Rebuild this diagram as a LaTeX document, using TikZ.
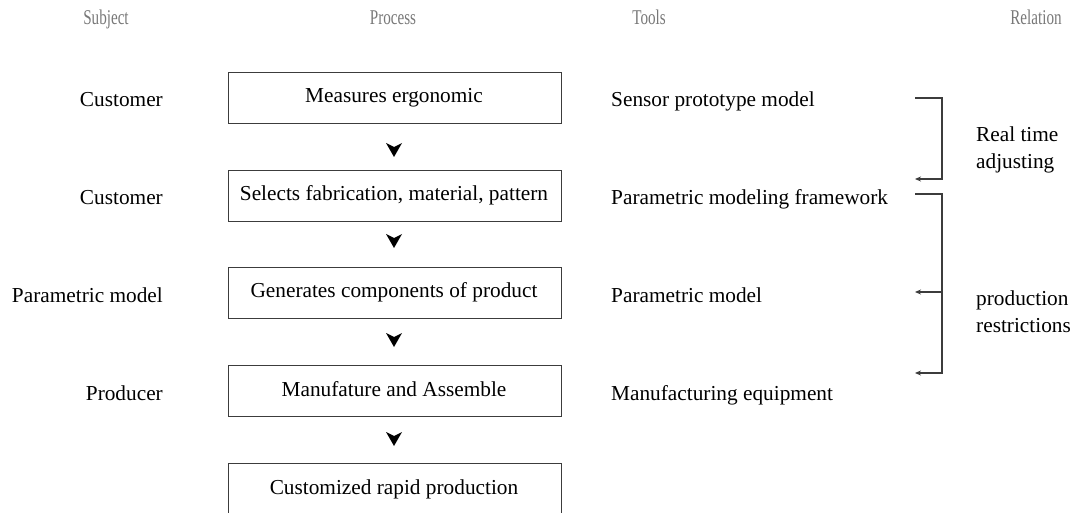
\documentclass[tikz,border=0pt]{standalone}
\usepackage{fontspec}
\setmainfont{Liberation Serif}
\newfontfamily\hdrfont[FakeStretch=0.72]{Liberation Serif}
\usetikzlibrary{arrows.meta}
\definecolor{hdrgray}{RGB}{120,120,120}
\definecolor{linegray}{RGB}{60,60,60}
\begin{document}
\begin{tikzpicture}[x=1pt,y=-1pt,
  every node/.style={font=\fontsize{21.3}{27}\selectfont, inner sep=0pt},
  procbox/.style={draw=linegray, line width=1.1pt, minimum width=333pt, minimum height=51pt, anchor=north west},
  boxtext/.style={anchor=base},
  hdr/.style={font=\hdrfont\fontsize{21}{24}\selectfont, text=hdrgray, anchor=base},
  lbl/.style={anchor=base east},
  tool/.style={anchor=base west},
  brk/.style={draw=linegray, line width=1.1pt},
  brkarrow/.style={brk, -{Stealth[length=6pt,width=5pt]}}
]
\useasboundingbox (0,0) rectangle (1077,513);
% headers
\node[hdr] (hsub) at (106,25) {Subject};
\node[hdr] (hproc) at (393,25) {Process};
\node[hdr] (htool) at (649,25) {Tools};
\node[hdr] (hrel) at (1036,25) {Relation};
% process boxes
\node[procbox] (b1) at (228,72) {};
\node[procbox] (b2) at (228,170) {};
\node[procbox] (b3) at (228,267) {};
\node[procbox] (b4) at (228,365) {};
\node[procbox, minimum height=54pt] (b5) at (228,463) {};
\node[boxtext] (t1) at (394,103) {Measures ergonomic};
\node[boxtext] (t2) at (394,201) {Selects fabrication, material, pattern};
\node[boxtext] (t3) at (394,298) {Generates components of product};
\node[boxtext] (t4) at (394,396) {Manufature and Assemble};
\node[boxtext] (t5) at (394,494) {Customized rapid production};
% chevrons
\foreach \i/\yy in {1/150,2/241,3/340,4/439}{
  \fill (386,\yy-7) -- (394,\yy-3) -- (402,\yy-7) -- (394,\yy+7) -- cycle;
}
% subjects
\node[lbl] (s1) at (163,107) {Customer};
\node[lbl] (s2) at (163,205) {Customer};
\node[lbl] (s3) at (163,302) {Parametric model};
\node[lbl] (s4) at (163,400) {Producer};
% tools
\node[tool] (o1) at (611,107) {Sensor prototype model};
\node[tool] (o2) at (611,205) {Parametric modeling framework};
\node[tool] (o3) at (611,302) {Parametric model};
\node[tool] (o4) at (611,400) {Manufacturing equipment};
% brackets
\coordinate (a1) at (915,98);
\coordinate (a2) at (942,98);
\coordinate (a3) at (942,179);
\coordinate (a4) at (915,179);
\draw[brkarrow] (a1) -- (a2) -- (a3) -- (a4);
\coordinate (c1) at (915,194);
\coordinate (c2) at (942,194);
\coordinate (c3) at (942,373);
\coordinate (c4) at (915,373);
\coordinate (cm) at (942,292);
\coordinate (cm2) at (915,292);
\draw[brkarrow] (c1) -- (c2) -- (c3) -- (c4);
\draw[brkarrow] (cm) -- (cm2);
% relation labels
\node[anchor=west, align=left] (r1) at (976,150) {Real time\\adjusting};
\node[anchor=west, align=left] (r2) at (976,312) {production\\restrictions};
\end{tikzpicture}
\end{document}
